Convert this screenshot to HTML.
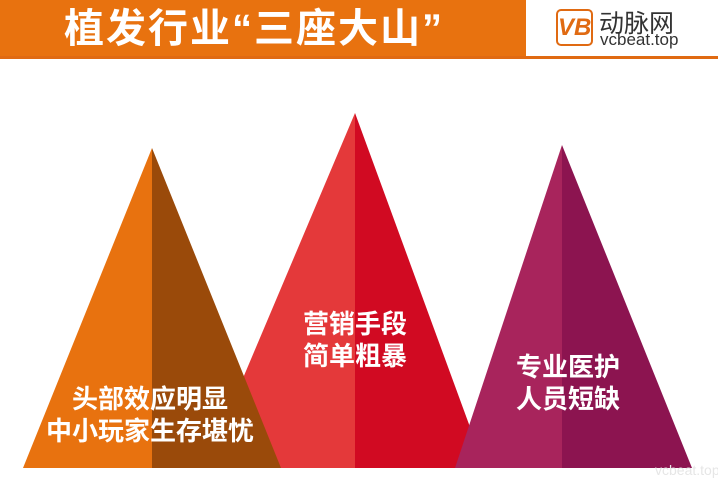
<!DOCTYPE html>
<html><head><meta charset="utf-8">
<style>
body{margin:0;width:718px;height:498px;overflow:hidden;background:#fff;font-family:"Liberation Sans","Noto Sans CJK SC",sans-serif;position:relative}
.hdr{position:absolute;left:0;top:0;width:526px;height:57px;background:#e8720f}
.line{position:absolute;left:0;top:56px;width:718px;height:3px;background:#e06a12}
.title{position:absolute;left:64px;top:2px;color:#fff;font-size:40px;font-weight:bold;letter-spacing:2px;line-height:54px}
.logo{position:absolute;left:556px;top:9px;width:33px;height:33px;border:2px solid #e06a12;border-radius:5px;color:#e06a12;font-weight:bold;font-size:24px;text-align:center;line-height:33px;font-style:italic}
.lt{position:absolute;left:599px;top:4px;font-size:25px;color:#333}
.ls{position:absolute;left:600px;top:30px;font-size:17px;color:#333}
.t{position:absolute;color:#fff;font-weight:bold;font-size:26px;text-align:center;line-height:32px;transform:translateX(-50%);white-space:nowrap}
.wm{position:absolute;left:655px;top:462px;color:#e6e6e6;font-size:14px}
</style></head><body>
<div class="hdr"></div>
<div class="line"></div>
<div class="title">植发行业“三座大山”</div>
<div class="logo">VB</div>
<div class="lt">动脉网</div>
<div class="ls">vcbeat.top</div>
<svg width="718" height="498" style="position:absolute;left:0;top:0">
<g>
<polygon points="355,113 205,468 355,468" fill="#e4393a"/>
<polygon points="355,113 485,468 355,468" fill="#d10a22"/>
</g>
<g>
<polygon points="152,148 23,468 152,468" fill="#e8720f"/>
<polygon points="152,148 281,468 152,468" fill="#9a4a0a"/>
</g>
<g>
<polygon points="562,145 455,468 562,468" fill="#a8245c"/>
<polygon points="562,145 692,468 562,468" fill="#8c1450"/>
</g>
</svg>
<div class="t" style="left:150px;top:383px">头部效应明显<br>中小玩家生存堪忧</div>
<div class="t" style="left:355px;top:308px">营销手段<br>简单粗暴</div>
<div class="t" style="left:568px;top:351px">专业医护<br>人员短缺</div>
<div class="wm">vcbeat.top</div>
</body></html>
